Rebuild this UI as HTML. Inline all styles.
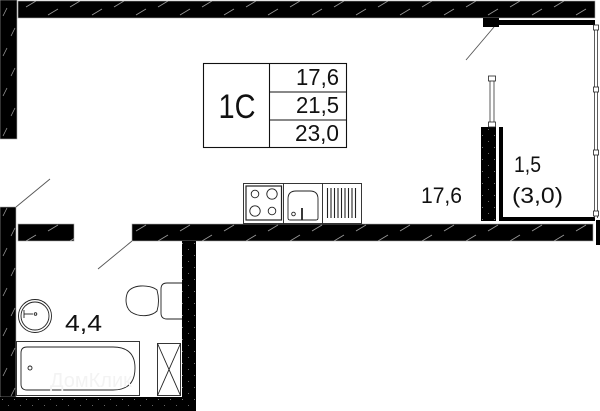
<!DOCTYPE html>
<html><head><meta charset="utf-8"><style>
html,body{margin:0;padding:0;background:#fff;}
svg{display:block;}
text{font-family:"Liberation Sans",sans-serif;fill:#111;}
</style></head><body>
<svg width="600" height="411" viewBox="0 0 600 411" xmlns="http://www.w3.org/2000/svg">
<defs>
<pattern id="hatch" width="44" height="18" patternUnits="userSpaceOnUse">
<rect width="44" height="18" fill="#000"/>
<line x1="4" y1="15" x2="14" y2="9" stroke="#9a9a9a" stroke-width="0.8"/>
<line x1="26" y1="7" x2="36" y2="1" stroke="#9a9a9a" stroke-width="0.8"/>
</pattern>
<pattern id="hatchv" width="17" height="40" patternUnits="userSpaceOnUse">
<rect width="17" height="40" fill="#000"/>
<line x1="3" y1="16" x2="7" y2="8" stroke="#9a9a9a" stroke-width="0.8"/>
<line x1="11" y1="36" x2="15" y2="28" stroke="#9a9a9a" stroke-width="0.8"/>
</pattern>
<pattern id="dots" width="12" height="12" patternUnits="userSpaceOnUse">
<rect width="12" height="12" fill="#000"/>
<rect x="2" y="3" width="1" height="1" fill="#777"/>
<rect x="8" y="9" width="1" height="1" fill="#666"/>
</pattern>
</defs>

<!-- hatched walls -->
<rect x="0" y="0" width="17" height="139" fill="url(#hatchv)" stroke="#aaa" stroke-width="0.6"/>
<rect x="18" y="1" width="577" height="17" fill="url(#hatch)" stroke="#aaa" stroke-width="0.6"/>
<rect x="483" y="18" width="16" height="9" fill="#000"/>
<rect x="499" y="20" width="96" height="5" fill="#000"/>
<rect x="0" y="207" width="16" height="190" fill="url(#hatchv)" stroke="#aaa" stroke-width="0.6"/>
<rect x="18" y="224" width="56" height="17" fill="url(#hatch)" stroke="#aaa" stroke-width="0.6"/>
<rect x="132" y="224" width="461" height="17" fill="url(#hatch)" stroke="#aaa" stroke-width="0.6"/>
<rect x="596" y="220" width="4" height="25" fill="#000"/>

<!-- concrete walls -->
<rect x="182" y="241" width="14" height="170" fill="url(#dots)"/>
<rect x="0" y="397" width="196" height="14" fill="url(#dots)"/>
<rect x="481" y="127" width="15" height="94" fill="url(#dots)"/>

<!-- balcony L -->
<rect x="499" y="127" width="4" height="94" fill="#000"/>
<rect x="499" y="217" width="96" height="4" fill="#000"/>

<!-- right window -->
<line x1="594.5" y1="25" x2="594.5" y2="218" stroke="#333" stroke-width="0.8"/>
<line x1="597.5" y1="25" x2="597.5" y2="218" stroke="#333" stroke-width="0.8"/>
<rect x="593.5" y="25" width="5" height="5" fill="#fff" stroke="#222" stroke-width="0.8"/>
<rect x="593.5" y="87" width="5" height="5" fill="#fff" stroke="#222" stroke-width="0.8"/>
<rect x="593.5" y="150" width="5" height="5" fill="#fff" stroke="#222" stroke-width="0.8"/>
<rect x="593.5" y="211" width="5" height="5" fill="#fff" stroke="#222" stroke-width="0.8"/>

<!-- partition window -->
<line x1="490" y1="79" x2="490" y2="126" stroke="#333" stroke-width="0.8"/>
<line x1="494" y1="79" x2="494" y2="126" stroke="#333" stroke-width="0.8"/>
<rect x="488.5" y="76" width="7" height="5" fill="#fff" stroke="#222" stroke-width="0.8"/>
<rect x="488.5" y="122" width="7" height="5" fill="#fff" stroke="#222" stroke-width="0.8"/>

<!-- door swing lines -->
<line x1="16" y1="207" x2="50" y2="179" stroke="#555" stroke-width="0.9"/>
<line x1="132" y1="241" x2="98" y2="269" stroke="#555" stroke-width="0.9"/>
<line x1="494" y1="27" x2="466" y2="60" stroke="#555" stroke-width="0.9"/>

<!-- table -->
<g fill="none" stroke="#111" stroke-width="1.1">
<rect x="203.5" y="63.5" width="143" height="84"/>
<line x1="269.5" y1="63.5" x2="269.5" y2="147.5"/>
<line x1="269.5" y1="92" x2="346.5" y2="92"/>
<line x1="269.5" y1="120" x2="346.5" y2="120"/>
</g>
<text x="237" y="118" font-size="34" text-anchor="middle" textLength="37" lengthAdjust="spacingAndGlyphs">1C</text>
<text x="296" y="85" font-size="23" textLength="43" lengthAdjust="spacingAndGlyphs">17,6</text>
<text x="296" y="113" font-size="23" textLength="43" lengthAdjust="spacingAndGlyphs">21,5</text>
<text x="295" y="141" font-size="23" textLength="44" lengthAdjust="spacingAndGlyphs">23,0</text>

<!-- labels -->
<text x="421" y="203" font-size="22" textLength="41" lengthAdjust="spacingAndGlyphs">17,6</text>
<text x="514" y="172" font-size="22" textLength="27" lengthAdjust="spacingAndGlyphs">1,5</text>
<text x="512" y="203" font-size="22" textLength="51" lengthAdjust="spacingAndGlyphs">(3,0)</text>
<text x="65" y="331" font-size="23" textLength="37" lengthAdjust="spacingAndGlyphs">4,4</text>

<!-- kitchen -->
<g fill="none" stroke="#222" stroke-width="0.9">
<rect x="243.5" y="183.5" width="118" height="40"/>
<line x1="283.5" y1="183.5" x2="283.5" y2="223.5"/>
<line x1="322.5" y1="183.5" x2="322.5" y2="223.5"/>
<rect x="246" y="186" width="35.5" height="34" stroke-width="1.2"/>
<circle cx="255" cy="194" r="3.8"/>
<circle cx="272" cy="194" r="5.2"/>
<circle cx="255" cy="211" r="5.2"/>
<circle cx="272" cy="211" r="3.8"/>
<path d="M288 218 L288 199 Q288 191 296 191 L310 191 Q318 191 318 199 L318 218 Q318 220 316 220 L290 220 Q288 220 288 218 Z"/>
<circle cx="293.5" cy="214" r="1.8"/>
</g>
<line x1="302" y1="208" x2="302" y2="220" stroke="#222" stroke-width="1.8"/>
<g stroke="#222" stroke-width="1.1">
<line x1="327.5" y1="188" x2="327.5" y2="218"/>
<line x1="331" y1="188" x2="331" y2="218"/>
<line x1="334.5" y1="188" x2="334.5" y2="218"/>
<line x1="338" y1="188" x2="338" y2="218"/>
<line x1="341.5" y1="188" x2="341.5" y2="218"/>
<line x1="345" y1="188" x2="345" y2="218"/>
<line x1="348.5" y1="188" x2="348.5" y2="218"/>
<line x1="352" y1="188" x2="352" y2="218"/>
<line x1="355.5" y1="188" x2="355.5" y2="218"/>
</g>

<!-- bathroom: sink -->
<g fill="none" stroke="#222" stroke-width="0.9">
<circle cx="35" cy="316" r="16.5"/>
<circle cx="35" cy="316" r="14"/>
<line x1="24" y1="314" x2="33" y2="314"/>
<line x1="24" y1="310" x2="24" y2="318"/>
<circle cx="35.5" cy="314" r="1.3"/>
</g>
<!-- toilet -->
<g fill="#fff" stroke="#222" stroke-width="0.9">
<path d="M182 283 L167 283 Q161 283 161 289 L161 313 Q161 319 167 319 L182 319"/>
<path d="M156 291 Q160 301 156 311 Z"/>
<path d="M157 290 C150 284 130 284 127 294 C125 300 126 308 131 312 C140 318 152 316 157 311 Q160 301 157 290 Z"/>
</g>
<!-- bathtub -->
<g fill="none" stroke="#222" stroke-width="0.9">
<rect x="16.5" y="341.5" width="123" height="54"/>
<path d="M27 347 L113 347 Q135 347 135 368 Q135 390 113 390 L27 390 Q21 390 21 384 L21 353 Q21 347 27 347 Z"/>
<circle cx="30" cy="368" r="2"/>
<rect x="157.5" y="343.5" width="23" height="52"/>
<line x1="157.5" y1="343.5" x2="180.5" y2="395.5"/>
<line x1="180.5" y1="343.5" x2="157.5" y2="395.5"/>
</g>
<text x="50" y="387" font-size="20" style="fill:#f3f3f3">ДомКлик</text>
</svg>
</body></html>
